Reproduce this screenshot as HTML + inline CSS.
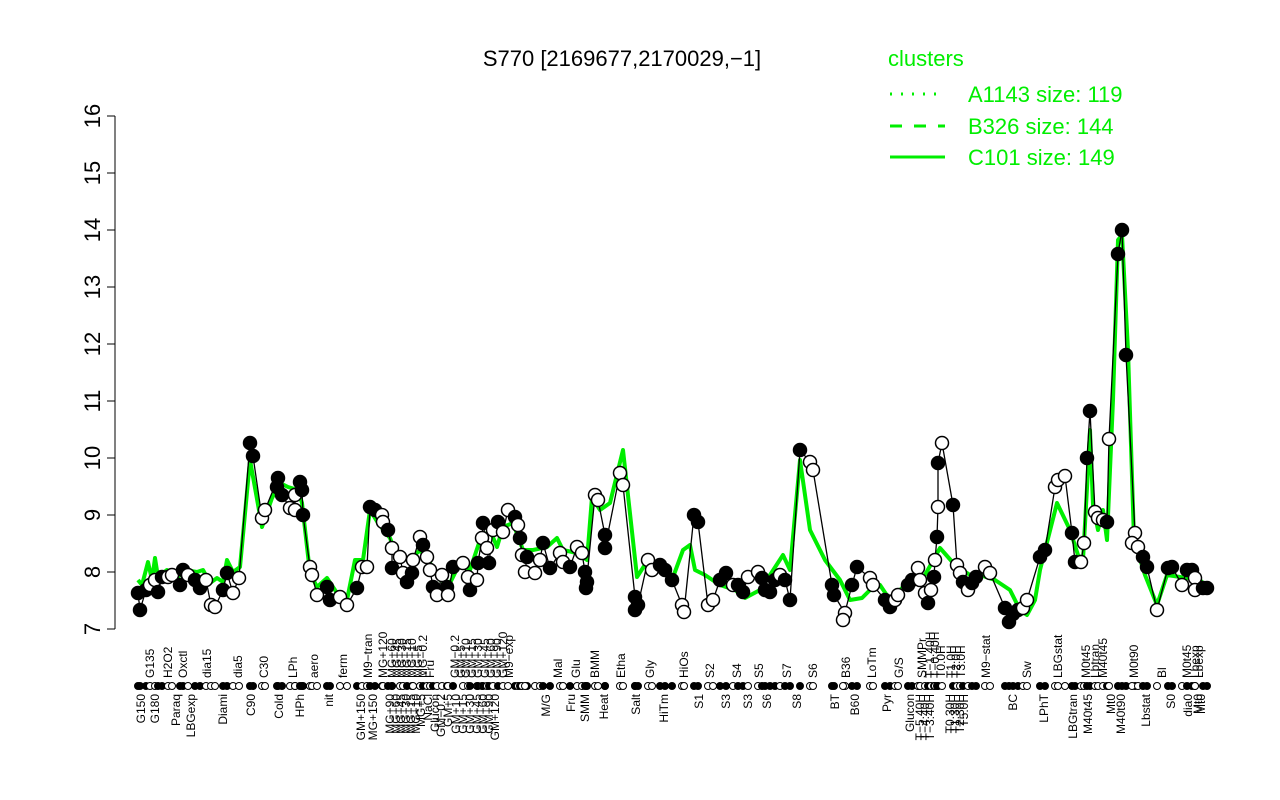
<!DOCTYPE html>
<html><head><meta charset="utf-8"><style>
html,body{margin:0;padding:0;background:#fff;}
svg{display:block;font-family:"Liberation Sans",Arial,sans-serif;}
</style></head><body>
<svg id="s" width="1280" height="800" viewBox="0 0 1280 800" xmlns="http://www.w3.org/2000/svg">
<rect width="1280" height="800" fill="#fff"/>
<text x="622" y="66" font-size="22" text-anchor="middle">S770 [2169677,2170029,−1]</text>
<!-- y axis -->
<g stroke="#000" stroke-width="1" fill="none">
<line x1="115" y1="116" x2="115" y2="629"/>
<line x1="107" y1="629" x2="115" y2="629"/><line x1="107" y1="572" x2="115" y2="572"/>
<line x1="107" y1="515" x2="115" y2="515"/><line x1="107" y1="458" x2="115" y2="458"/>
<line x1="107" y1="401" x2="115" y2="401"/><line x1="107" y1="344" x2="115" y2="344"/>
<line x1="107" y1="287" x2="115" y2="287"/><line x1="107" y1="230" x2="115" y2="230"/>
<line x1="107" y1="173" x2="115" y2="173"/><line x1="107" y1="116" x2="115" y2="116"/>
</g>
<g font-size="22" text-anchor="middle">
<text transform="translate(100,629) rotate(-90)">7</text>
<text transform="translate(100,572) rotate(-90)">8</text>
<text transform="translate(100,515) rotate(-90)">9</text>
<text transform="translate(100,458) rotate(-90)">10</text>
<text transform="translate(100,401) rotate(-90)">11</text>
<text transform="translate(100,344) rotate(-90)">12</text>
<text transform="translate(100,287) rotate(-90)">13</text>
<text transform="translate(100,230) rotate(-90)">14</text>
<text transform="translate(100,173) rotate(-90)">15</text>
<text transform="translate(100,116) rotate(-90)">16</text>
</g>
<!-- legend -->
<text x="888" y="66" font-size="22" fill="#00ee00">clusters</text>
<g stroke="#00ee00" stroke-width="3">
<line x1="890" y1="94" x2="945" y2="94" stroke-dasharray="2,9"/>
<line x1="890" y1="126" x2="945" y2="126" stroke-dasharray="12,12"/>
<line x1="890" y1="157" x2="945" y2="157"/>
</g>
<g font-size="22" fill="#00ee00">
<text x="968" y="102">A1143 size: 119</text>
<text x="968" y="134">B326 size: 144</text>
<text x="968" y="165">C101 size: 149</text>
</g>
<polyline fill="none" stroke="#00ee00" stroke-width="4" stroke-linejoin="round" points="138,580 142,585 148,562 152,580 155,558 158,577 167,570 178,577 185,570 197,572 203,570 210,583 217,578 223,582 227,560 233,572 240,567 250,460 262,527 272,498 280,483 288,487 298,490 302,503 310,573 317,587 327,578 337,593 347,600 355,560 363,560 370,510 378,523 390,538 397,557 410,560 420,550 430,563 440,580 450,583 460,563 470,570 480,540 490,530 497,547 503,527 513,523 523,550 533,550 547,547 557,538 563,550 577,553 587,560 592,497 600,510 610,503 623,450 637,577 648,560 660,565 672,580 683,550 690,545 695,570 705,575 720,585 735,590 745,598 760,590 770,575 783,555 790,570 800,460 810,530 825,560 840,580 850,600 862,598 870,590 880,585 890,600 910,580 925,575 940,548 955,565 970,575 980,575 995,580 1010,590 1020,610 1027,615 1035,600 1040,570 1057,503 1070,530 1078,555 1083,560 1088,470 1090,430 1093,505 1098,530 1103,510 1107,540 1113,400 1118,240 1122,235 1128,350 1134,540 1145,575 1157,605 1167,575 1200,580 1210,590"/>
<polyline id="bl" fill="none" stroke="#000" stroke-width="1.3"/>
<g id="pts"></g>
<g id="axd"></g>
<g font-size="12" id="lab"></g>
</svg>
<script>
var P=[[138,593,1],[140,610,1],[146,590,1],[150,585,0],[155,580,0],[158,592,1],[162,577,1],[168,577,0],[172,575,0],[180,585,1],[183,570,1],[188,575,0],[195,580,1],[200,588,1],[206,580,0],[211,605,0],[215,607,0],[223,590,1],[227,573,1],[233,593,0],[239,578,0],
[250,443,1],[253,456,1],[262,518,0],[265,510,0],[278,478,1],[277,487,1],[282,495,1],[290,508,0],[295,510,0],[295,495,0],[300,482,1],[302,490,1],[303,515,1],[310,567,0],[312,575,0],[317,595,0],[327,587,1],[330,600,1],[340,597,0],[347,605,0],[357,588,1],[362,567,0],[367,567,0],
[370,507,1],[375,510,1],[382,515,0],[383,522,0],[388,530,1],[392,548,0],[392,568,1],[400,557,0],[403,573,0],[407,582,1],[412,573,1],[413,560,0],[420,537,0],[423,545,1],[427,557,0],[430,570,0],[433,587,1],[437,595,0],[442,575,0],[447,587,1],[448,595,0],[453,567,1],[463,563,0],[468,577,0],[470,590,1],[477,580,0],[478,563,1],[482,538,0],[483,523,1],[487,548,0],[489,563,1],[493,530,0],[498,522,1],[503,532,0],[508,510,0],[515,517,1],[518,525,0],[520,538,1],[522,555,0],[527,557,1],[525,572,0],[535,573,0],[540,560,0],[543,543,1],[550,568,1],[560,553,0],[563,562,0],[570,567,1],[577,547,0],[582,553,0],[585,572,1],[587,582,1],[586,588,1],[595,495,0],[598,500,0],[605,535,1],[605,548,1],[620,473,0],[623,485,0],[635,597,1],[635,610,1],[638,605,1],[648,560,0],
[652,570,0],[660,565,1],[665,570,1],[672,580,1],[682,605,0],[684,612,0],[694,515,1],[698,522,1],[708,605,0],[713,600,0],[720,580,1],[726,573,1],[733,585,0],[738,585,1],[743,592,1],[748,577,0],[758,572,0],[762,578,1],[765,590,1],[770,592,1],[775,580,1],[780,575,0],[785,580,1],[790,600,1],[800,450,1],[810,462,0],[813,470,0],[832,585,1],[834,595,1],[845,613,0],[843,620,0],[852,585,1],[857,567,1],[870,578,0],[873,585,0],[885,600,1],[890,607,1],[895,600,0],[898,595,0],[908,585,1],[912,580,1],[918,568,0],[920,580,0],[925,593,0],[928,603,1],[931,590,0],[934,577,1],[935,560,0],[937,537,1],[938,507,0],[938,463,1],[942,443,0],[953,505,1],[957,565,0],[960,573,0],[963,582,1],[968,590,0],[972,583,1],[976,577,1],[985,567,0],[990,573,0],[1005,608,1],[1009,622,1],[1013,614,1],[1018,610,1],[1023,608,0],[1027,600,0],
[1040,557,1],[1045,550,1],[1055,487,0],[1058,480,0],[1065,476,0],[1072,533,1],[1075,562,1],[1081,562,0],[1084,543,0],[1087,458,1],[1090,411,1],[1095,512,0],[1098,518,0],[1103,520,0],[1107,522,1],[1109,439,0],[1118,254,1],[1122,230,1],[1126,355,1],[1135,533,0],[1132,543,0],[1138,547,0],[1143,557,1],[1147,567,1],[1157,610,0],[1168,568,1],[1172,567,1],[1182,585,0],[1187,570,1],[1192,570,1],[1195,578,0],[1195,590,0],[1203,588,1],[1207,588,1]];
var NS="http://www.w3.org/2000/svg";
document.getElementById('bl').setAttribute('points',P.map(function(p){return p[0]+','+p[1]}).join(' '));
var g=document.getElementById('pts'),a=document.getElementById('axd');
P.forEach(function(p){
 var c=document.createElementNS(NS,'circle');c.setAttribute('cx',p[0]);c.setAttribute('cy',p[1]);c.setAttribute('r',6.5);
 c.setAttribute('fill',p[2]?'#000':'#fff');c.setAttribute('stroke','#000');c.setAttribute('stroke-width',1.5);g.appendChild(c);
 var d=document.createElementNS(NS,'circle');d.setAttribute('cx',p[0]);d.setAttribute('cy',686);d.setAttribute('r',3.5);
 d.setAttribute('fill',p[2]?'#000':'#fff');d.setAttribute('stroke','#000');d.setAttribute('stroke-width',1);a.appendChild(d);
});
var up=[[150,'G135'],[168,'H2O2'],[183,'Oxctl'],[207,'dia15'],[238,'dia5'],[264,'C30'],[293,'LPh'],[314,'aero'],[343,'ferm'],[368,'M9−tran'],[383,'MG+120'],[392,'MG+60'],[397,'MG+45'],[402,'MG+30'],[407,'MG+15'],[412,'MG+10'],[418,'MG+5'],[423,'MG−0.2'],[430,'Fru'],[455,'GM−0.2'],[461,'GM+5'],[466,'GM+10'],[472,'GM+15'],[478,'GM+30'],[485,'GM+45'],[491,'GM+60'],[497,'GM+90'],[503,'GM+120'],[509,'M9−exp'],[558,'Mal'],[576,'Glu'],[595,'BMM'],[621,'Etha'],[650,'Gly'],[684,'HiOs'],[710,'S2'],[737,'S4'],[759,'S5'],[787,'S7'],[813,'S6'],[846,'B36'],[872,'LoTm'],[899,'G/S'],[922,'SMMPr'],[930,'T−1.40H'],[935,'T−0.40H'],[941,'T0.0H'],[951,'T1.0H'],[956,'T2.0H'],[961,'T3.0H'],[986,'M9−stat'],[1027,'Sw'],[1058,'LBGstat'],[1086,'M0t45'],[1095,'Lbtran'],[1103,'M40t45'],[1134,'M0t90'],[1162,'Bl'],[1187,'M0t45'],[1195,'Lbexp'],[1199,'Lbexp']];
var dn=[[141,'G150'],[155,'G180'],[176,'Paraq'],[191,'LBGexp'],[223,'Diami'],[251,'C90'],[279,'Cold'],[300,'HPh'],[329,'nit'],[361,'GM+150'],[373,'MG+150'],[390,'MG+90'],[396,'MG+60'],[401,'MG+45'],[406,'MG+30'],[411,'MG+15'],[416,'MG+10'],[421,'MG+5'],[428,'NaCl'],[435,'Glucon'],[441,'GM−0.2'],[448,'GM+5'],[456,'GM+10'],[463,'GM+15'],[470,'GM+30'],[477,'GM+45'],[483,'GM+60'],[489,'GM+90'],[495,'GM+120'],[546,'M/G'],[571,'Fru'],[585,'SMM'],[604,'Heat'],[636,'Salt'],[664,'HiTm'],[699,'S1'],[726,'S3'],[748,'S3'],[767,'S6'],[797,'S8'],[835,'BT'],[855,'B60'],[887,'Pyr'],[910,'Glucon'],[920,'T−5.40H'],[925,'T−4.40H'],[930,'T−3.40H'],[950,'T0.30H'],[955,'T1.30H'],[960,'T2.30H'],[964,'T5.0H'],[1013,'BC'],[1044,'LPhT'],[1073,'LBGtran'],[1088,'M40t45'],[1111,'Mt0'],[1121,'M40t90'],[1146,'Lbstat'],[1171,'S0'],[1188,'dia0'],[1198,'Mt0'],[1201,'Mt0']];
var L=document.getElementById('lab');
function t(x,y,s,anc){var e=document.createElementNS(NS,'text');e.setAttribute('transform','translate('+(x+4)+','+y+') rotate(-90)');e.setAttribute('text-anchor',anc);e.textContent=s;L.appendChild(e);}
up.forEach(function(u){t(u[0],678,u[1],'start');});
dn.forEach(function(u){t(u[0],694,u[1],'end');});
</script>
</body></html>
